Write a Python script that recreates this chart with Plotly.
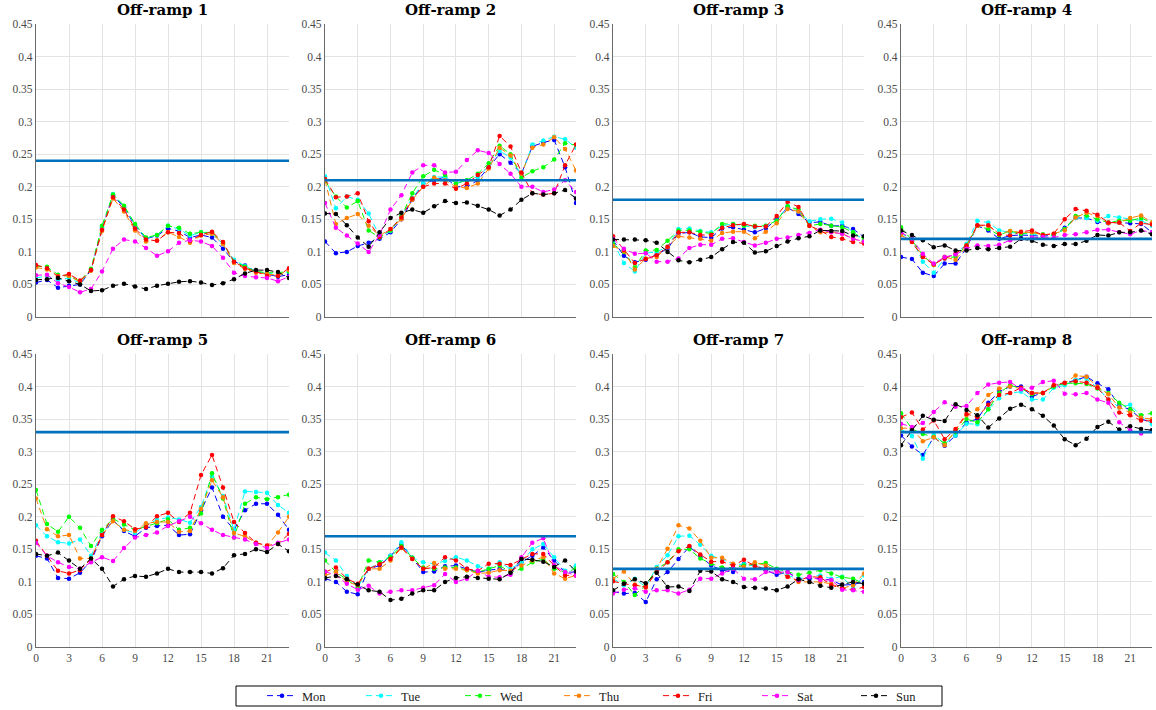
import plotly.graph_objects as go

# Hour of day (x axis)
hours = list(range(24))
days = ["Mon", "Tue", "Wed", "Thu", "Fri", "Sat", "Sun"]
day_colors = ["#0000FF", "#00FFFF", "#00FF00", "#FF8000", "#FF0000", "#FF00FF", "#000000"]

ramp_titles = ["Off-ramp 1", "Off-ramp 2", "Off-ramp 3", "Off-ramp 4",
               "Off-ramp 5", "Off-ramp 6", "Off-ramp 7", "Off-ramp 8"]

# Threshold level per off-ramp
thresholds = [0.24, 0.21, 0.18, 0.12, 0.33, 0.17, 0.12, 0.33]

# Hourly ratios per off-ramp, one list per weekday (Mon..Sun)
ramp1 = [
    [0.053, 0.057, 0.045, 0.048, 0.050, 0.072, 0.135, 0.187, 0.168, 0.140, 0.120, 0.125, 0.136, 0.132, 0.122, 0.126, 0.122, 0.105, 0.085, 0.079, 0.070, 0.066, 0.062, 0.065],
    [0.060, 0.063, 0.057, 0.060, 0.052, 0.073, 0.138, 0.189, 0.170, 0.142, 0.121, 0.126, 0.140, 0.135, 0.125, 0.130, 0.128, 0.112, 0.088, 0.078, 0.070, 0.068, 0.065, 0.070],
    [0.078, 0.077, 0.065, 0.063, 0.055, 0.074, 0.140, 0.188, 0.171, 0.143, 0.122, 0.126, 0.140, 0.137, 0.128, 0.130, 0.130, 0.113, 0.085, 0.077, 0.070, 0.068, 0.068, 0.070],
    [0.076, 0.073, 0.063, 0.063, 0.054, 0.071, 0.132, 0.182, 0.162, 0.133, 0.116, 0.118, 0.130, 0.123, 0.114, 0.125, 0.128, 0.112, 0.083, 0.074, 0.068, 0.066, 0.064, 0.072],
    [0.080, 0.075, 0.062, 0.066, 0.056, 0.072, 0.134, 0.184, 0.165, 0.136, 0.119, 0.117, 0.130, 0.129, 0.117, 0.126, 0.131, 0.115, 0.085, 0.075, 0.070, 0.063, 0.063, 0.075],
    [0.064, 0.065, 0.052, 0.046, 0.038, 0.043, 0.070, 0.105, 0.119, 0.116, 0.106, 0.094, 0.101, 0.114, 0.118, 0.116, 0.109, 0.091, 0.068, 0.063, 0.061, 0.060, 0.055, 0.062],
    [0.057, 0.058, 0.060, 0.055, 0.050, 0.040, 0.041, 0.048, 0.051, 0.047, 0.043, 0.048, 0.051, 0.054, 0.055, 0.053, 0.049, 0.052, 0.058, 0.067, 0.072, 0.072, 0.069, 0.060],
]
ramp2 = [
    [0.116, 0.098, 0.100, 0.109, 0.114, 0.120, 0.130, 0.150, 0.180, 0.205, 0.210, 0.215, 0.200, 0.200, 0.210, 0.230, 0.250, 0.237, 0.220, 0.262, 0.268, 0.272, 0.230, 0.175],
    [0.216, 0.167, 0.185, 0.180, 0.159, 0.124, 0.132, 0.155, 0.183, 0.205, 0.215, 0.215, 0.205, 0.210, 0.215, 0.232, 0.255, 0.245, 0.218, 0.265, 0.271, 0.277, 0.273, 0.260],
    [0.209, 0.185, 0.168, 0.178, 0.133, 0.122, 0.133, 0.155, 0.190, 0.216, 0.226, 0.218, 0.205, 0.210, 0.220, 0.236, 0.263, 0.250, 0.214, 0.224, 0.230, 0.242, 0.267, 0.264],
    [0.210, 0.143, 0.152, 0.158, 0.140, 0.125, 0.135, 0.150, 0.180, 0.200, 0.214, 0.210, 0.200, 0.198, 0.205, 0.228, 0.260, 0.248, 0.220, 0.260, 0.265, 0.276, 0.258, 0.225],
    [0.212, 0.184, 0.185, 0.190, 0.147, 0.123, 0.135, 0.153, 0.182, 0.200, 0.205, 0.205, 0.197, 0.205, 0.218, 0.230, 0.278, 0.262, 0.222, 0.190, 0.188, 0.190, 0.233, 0.265],
    [0.175, 0.137, 0.125, 0.113, 0.100, 0.126, 0.165, 0.187, 0.222, 0.233, 0.233, 0.222, 0.223, 0.241, 0.256, 0.252, 0.235, 0.220, 0.200, 0.200, 0.192, 0.196, 0.210, 0.192],
    [0.159, 0.158, 0.141, 0.122, 0.108, 0.130, 0.152, 0.160, 0.165, 0.160, 0.170, 0.178, 0.175, 0.176, 0.171, 0.165, 0.156, 0.165, 0.180, 0.190, 0.188, 0.190, 0.195, 0.182],
]
ramp3 = [
    [0.118, 0.094, 0.084, 0.088, 0.096, 0.105, 0.128, 0.130, 0.123, 0.122, 0.136, 0.138, 0.134, 0.130, 0.136, 0.150, 0.168, 0.158, 0.145, 0.146, 0.140, 0.140, 0.135, 0.123],
    [0.115, 0.083, 0.070, 0.098, 0.100, 0.108, 0.135, 0.136, 0.132, 0.130, 0.140, 0.143, 0.140, 0.138, 0.140, 0.148, 0.170, 0.162, 0.147, 0.150, 0.151, 0.145, 0.130, 0.118],
    [0.112, 0.100, 0.076, 0.102, 0.103, 0.117, 0.133, 0.133, 0.131, 0.128, 0.143, 0.143, 0.140, 0.140, 0.140, 0.148, 0.170, 0.165, 0.140, 0.143, 0.140, 0.138, 0.130, 0.120],
    [0.109, 0.101, 0.073, 0.090, 0.092, 0.107, 0.124, 0.122, 0.120, 0.117, 0.129, 0.131, 0.131, 0.121, 0.131, 0.144, 0.166, 0.162, 0.140, 0.130, 0.130, 0.128, 0.120, 0.115],
    [0.124, 0.103, 0.083, 0.089, 0.095, 0.108, 0.130, 0.130, 0.126, 0.126, 0.137, 0.141, 0.143, 0.139, 0.139, 0.155, 0.177, 0.169, 0.140, 0.133, 0.123, 0.120, 0.115, 0.113],
    [0.120, 0.105, 0.097, 0.098, 0.085, 0.085, 0.090, 0.106, 0.111, 0.111, 0.120, 0.121, 0.115, 0.110, 0.114, 0.120, 0.122, 0.126, 0.129, 0.134, 0.130, 0.128, 0.120, 0.116],
    [0.119, 0.119, 0.119, 0.118, 0.114, 0.100, 0.087, 0.084, 0.088, 0.092, 0.104, 0.115, 0.114, 0.099, 0.101, 0.109, 0.116, 0.121, 0.124, 0.133, 0.132, 0.132, 0.125, 0.124],
]
ramp4 = [
    [0.092, 0.089, 0.068, 0.063, 0.082, 0.082, 0.106, 0.140, 0.133, 0.120, 0.125, 0.126, 0.125, 0.124, 0.126, 0.137, 0.152, 0.152, 0.146, 0.144, 0.145, 0.144, 0.143, 0.130],
    [0.128, 0.120, 0.085, 0.068, 0.090, 0.096, 0.112, 0.148, 0.145, 0.133, 0.130, 0.128, 0.128, 0.124, 0.125, 0.135, 0.152, 0.152, 0.148, 0.155, 0.153, 0.150, 0.148, 0.140],
    [0.138, 0.118, 0.095, 0.080, 0.092, 0.092, 0.110, 0.140, 0.135, 0.126, 0.132, 0.128, 0.130, 0.127, 0.126, 0.135, 0.155, 0.156, 0.150, 0.145, 0.148, 0.148, 0.152, 0.145],
    [0.126, 0.116, 0.093, 0.080, 0.092, 0.088, 0.108, 0.140, 0.140, 0.128, 0.132, 0.130, 0.130, 0.126, 0.128, 0.133, 0.153, 0.160, 0.155, 0.144, 0.145, 0.152, 0.156, 0.145],
    [0.132, 0.115, 0.092, 0.081, 0.090, 0.097, 0.110, 0.141, 0.141, 0.127, 0.125, 0.131, 0.133, 0.126, 0.128, 0.150, 0.166, 0.163, 0.157, 0.145, 0.145, 0.132, 0.144, 0.142],
    [0.130, 0.120, 0.097, 0.082, 0.092, 0.096, 0.105, 0.110, 0.109, 0.111, 0.118, 0.120, 0.122, 0.123, 0.122, 0.126, 0.127, 0.130, 0.134, 0.134, 0.130, 0.127, 0.133, 0.130],
    [0.133, 0.126, 0.118, 0.107, 0.110, 0.102, 0.102, 0.106, 0.104, 0.106, 0.108, 0.120, 0.117, 0.111, 0.109, 0.112, 0.112, 0.117, 0.126, 0.125, 0.130, 0.130, 0.133, 0.127],
]
ramp5 = [
    [0.140, 0.136, 0.106, 0.105, 0.114, 0.132, 0.170, 0.195, 0.178, 0.170, 0.183, 0.186, 0.187, 0.172, 0.173, 0.210, 0.245, 0.200, 0.180, 0.210, 0.220, 0.220, 0.203, 0.180],
    [0.187, 0.170, 0.161, 0.159, 0.165, 0.140, 0.175, 0.195, 0.180, 0.175, 0.188, 0.195, 0.199, 0.196, 0.191, 0.215, 0.262, 0.232, 0.180, 0.239, 0.238, 0.237, 0.218, 0.206],
    [0.241, 0.189, 0.177, 0.200, 0.183, 0.155, 0.180, 0.197, 0.188, 0.180, 0.185, 0.190, 0.196, 0.180, 0.183, 0.205, 0.267, 0.228, 0.168, 0.220, 0.230, 0.227, 0.230, 0.234],
    [0.228, 0.181, 0.170, 0.172, 0.136, 0.136, 0.172, 0.193, 0.180, 0.178, 0.190, 0.192, 0.192, 0.177, 0.178, 0.212, 0.256, 0.230, 0.175, 0.170, 0.160, 0.155, 0.176, 0.200],
    [0.163, 0.140, 0.117, 0.113, 0.118, 0.135, 0.172, 0.201, 0.193, 0.181, 0.184, 0.201, 0.206, 0.192, 0.206, 0.264, 0.295, 0.245, 0.192, 0.175, 0.160, 0.156, 0.158, 0.174],
    [0.160, 0.140, 0.130, 0.123, 0.120, 0.130, 0.138, 0.132, 0.152, 0.168, 0.172, 0.176, 0.186, 0.193, 0.200, 0.190, 0.180, 0.172, 0.168, 0.165, 0.158, 0.152, 0.160, 0.165],
    [0.143, 0.140, 0.145, 0.133, 0.120, 0.136, 0.120, 0.093, 0.104, 0.109, 0.108, 0.113, 0.120, 0.115, 0.115, 0.115, 0.113, 0.121, 0.141, 0.143, 0.150, 0.146, 0.158, 0.147],
]
ramp6 = [
    [0.105, 0.100, 0.085, 0.081, 0.120, 0.125, 0.140, 0.157, 0.137, 0.115, 0.116, 0.124, 0.125, 0.120, 0.115, 0.118, 0.120, 0.115, 0.130, 0.140, 0.153, 0.133, 0.115, 0.115],
    [0.145, 0.133, 0.109, 0.092, 0.120, 0.130, 0.140, 0.161, 0.137, 0.130, 0.128, 0.132, 0.138, 0.133, 0.124, 0.120, 0.130, 0.120, 0.130, 0.150, 0.158, 0.138, 0.117, 0.125],
    [0.133, 0.115, 0.104, 0.091, 0.133, 0.130, 0.138, 0.155, 0.137, 0.122, 0.120, 0.122, 0.122, 0.118, 0.115, 0.120, 0.125, 0.115, 0.120, 0.130, 0.135, 0.120, 0.115, 0.120],
    [0.110, 0.115, 0.100, 0.095, 0.120, 0.120, 0.133, 0.152, 0.135, 0.120, 0.129, 0.120, 0.120, 0.118, 0.113, 0.114, 0.118, 0.117, 0.125, 0.133, 0.138, 0.113, 0.105, 0.110],
    [0.115, 0.122, 0.105, 0.097, 0.120, 0.127, 0.135, 0.153, 0.135, 0.120, 0.122, 0.138, 0.133, 0.120, 0.117, 0.128, 0.128, 0.126, 0.135, 0.143, 0.143, 0.125, 0.110, 0.110],
    [0.116, 0.110, 0.097, 0.088, 0.094, 0.082, 0.085, 0.087, 0.087, 0.091, 0.095, 0.112, 0.100, 0.105, 0.117, 0.108, 0.107, 0.111, 0.138, 0.160, 0.167, 0.125, 0.115, 0.110],
    [0.106, 0.109, 0.104, 0.096, 0.087, 0.085, 0.072, 0.074, 0.082, 0.087, 0.087, 0.100, 0.106, 0.108, 0.106, 0.105, 0.104, 0.114, 0.135, 0.134, 0.131, 0.123, 0.133, 0.116],
]
ramp7 = [
    [0.085, 0.082, 0.083, 0.069, 0.104, 0.115, 0.135, 0.154, 0.140, 0.125, 0.118, 0.115, 0.128, 0.125, 0.118, 0.111, 0.115, 0.105, 0.105, 0.105, 0.103, 0.095, 0.096, 0.100],
    [0.105, 0.095, 0.105, 0.092, 0.123, 0.141, 0.170, 0.171, 0.157, 0.140, 0.135, 0.127, 0.127, 0.125, 0.120, 0.118, 0.110, 0.105, 0.108, 0.110, 0.105, 0.108, 0.090, 0.110],
    [0.112, 0.100, 0.080, 0.095, 0.120, 0.130, 0.150, 0.150, 0.136, 0.128, 0.122, 0.122, 0.125, 0.127, 0.129, 0.120, 0.115, 0.111, 0.114, 0.118, 0.113, 0.107, 0.105, 0.097],
    [0.105, 0.116, 0.096, 0.091, 0.120, 0.151, 0.187, 0.182, 0.163, 0.137, 0.137, 0.128, 0.123, 0.130, 0.125, 0.118, 0.108, 0.100, 0.100, 0.100, 0.097, 0.090, 0.095, 0.113],
    [0.101, 0.097, 0.095, 0.092, 0.115, 0.130, 0.147, 0.155, 0.142, 0.131, 0.131, 0.125, 0.134, 0.124, 0.120, 0.118, 0.108, 0.102, 0.108, 0.107, 0.095, 0.090, 0.088, 0.092],
    [0.082, 0.088, 0.090, 0.085, 0.087, 0.087, 0.082, 0.088, 0.105, 0.105, 0.113, 0.120, 0.105, 0.104, 0.115, 0.115, 0.115, 0.103, 0.108, 0.103, 0.103, 0.088, 0.087, 0.085],
    [0.087, 0.097, 0.104, 0.098, 0.114, 0.092, 0.093, 0.086, 0.117, 0.116, 0.104, 0.100, 0.092, 0.091, 0.090, 0.087, 0.093, 0.104, 0.100, 0.094, 0.091, 0.096, 0.100, 0.097],
]
ramp8 = [
    [0.325, 0.308, 0.295, 0.322, 0.309, 0.325, 0.345, 0.350, 0.375, 0.392, 0.400, 0.400, 0.385, 0.390, 0.400, 0.405, 0.410, 0.415, 0.405, 0.396, 0.370, 0.365, 0.350, 0.345],
    [0.335, 0.324, 0.289, 0.326, 0.312, 0.325, 0.343, 0.342, 0.365, 0.382, 0.390, 0.392, 0.380, 0.380, 0.398, 0.402, 0.410, 0.412, 0.398, 0.380, 0.368, 0.372, 0.355, 0.342],
    [0.359, 0.335, 0.327, 0.323, 0.313, 0.330, 0.350, 0.345, 0.365, 0.390, 0.402, 0.397, 0.388, 0.390, 0.400, 0.405, 0.405, 0.404, 0.397, 0.390, 0.375, 0.365, 0.356, 0.359],
    [0.336, 0.336, 0.316, 0.322, 0.310, 0.333, 0.356, 0.365, 0.387, 0.397, 0.400, 0.397, 0.390, 0.390, 0.402, 0.405, 0.417, 0.415, 0.400, 0.388, 0.368, 0.360, 0.352, 0.350],
    [0.353, 0.360, 0.334, 0.348, 0.319, 0.335, 0.358, 0.353, 0.372, 0.387, 0.390, 0.398, 0.390, 0.390, 0.402, 0.406, 0.408, 0.406, 0.398, 0.380, 0.360, 0.356, 0.348, 0.347],
    [0.343, 0.338, 0.344, 0.361, 0.376, 0.369, 0.370, 0.390, 0.403, 0.406, 0.407, 0.396, 0.398, 0.407, 0.409, 0.389, 0.388, 0.390, 0.380, 0.375, 0.345, 0.333, 0.328, 0.333],
    [0.310, 0.333, 0.355, 0.349, 0.347, 0.373, 0.364, 0.356, 0.337, 0.351, 0.366, 0.372, 0.365, 0.355, 0.340, 0.319, 0.310, 0.320, 0.338, 0.346, 0.334, 0.339, 0.335, 0.333],
]
ramps = [ramp1, ramp2, ramp3, ramp4, ramp5, ramp6, ramp7, ramp8]

x_ticks = [0, 3, 6, 9, 12, 15, 18, 21]
y_ticks = [0, 0.05, 0.1, 0.15, 0.2, 0.25, 0.3, 0.35, 0.4, 0.45]
y_tick_text = ["0", "0.05", "0.1", "0.15", "0.2", "0.25", "0.3", "0.35", "0.4", "0.45"]

W, H = 1156, 710
col_px = [(36, 289), (325, 576), (613, 864), (901, 1152)]
row_px = [(24, 317), (354, 647)]
legend_box_px = (236, 686, 942, 706)  # left, top, right, bottom

FONT = "Liberation Serif"
TITLE_FONT = "DejaVu Serif"
fig = go.Figure()
layout = {}

for i, data in enumerate(ramps):
    r, c = divmod(i, 4)
    n = i + 1
    xa = "x" if n == 1 else f"x{n}"
    ya = "y" if n == 1 else f"y{n}"
    for d, (name, color) in enumerate(zip(days, day_colors)):
        fig.add_trace(go.Scatter(
            x=hours, y=data[d], xaxis=xa, yaxis=ya, name=name,
            mode="lines+markers", legendgroup=name, showlegend=(i == 0),
            line=dict(color=color, width=1, dash="6px,4px"),
            marker=dict(color=color, size=4.5),
        ))
    fig.add_trace(go.Scatter(
        x=[hours[0], hours[-1]], y=[thresholds[i]] * 2, xaxis=xa, yaxis=ya,
        mode="lines", showlegend=False, hoverinfo="skip",
        line=dict(color="#0072BD", width=2.6),
    ))

    x0, x1 = col_px[c]
    y0, y1 = row_px[r]
    key = "" if n == 1 else str(n)
    layout["xaxis" + key] = dict(
        domain=[x0 / W, x1 / W], range=[0, 23], anchor=ya,
        tickvals=x_ticks, showticklabels=(r == 1),
        showgrid=True, gridcolor="#e3e3e3", gridwidth=1,
        showline=True, linecolor="#6a6a6a", linewidth=1.2,
        zeroline=False, ticks="", tickfont=dict(family=FONT, size=11.5, color="#4a4a4a"),
    )
    layout["yaxis" + key] = dict(
        domain=[1 - y1 / H, 1 - y0 / H], range=[0, 0.45], anchor=xa,
        tickvals=y_ticks, ticktext=y_tick_text,
        showgrid=True, gridcolor="#e3e3e3", gridwidth=1,
        showline=True, linecolor="#6a6a6a", linewidth=1.2,
        zeroline=False, ticks="", tickfont=dict(family=FONT, size=11.5, color="#4a4a4a"),
    )

annotations = []
for i, title in enumerate(ramp_titles):
    r, c = divmod(i, 4)
    x0, x1 = col_px[c]
    y0, _ = row_px[r]
    annotations.append(dict(
        text=f"<b>{title}</b>", xref="paper", yref="paper",
        x=(x0 + x1) / 2 / W, y=1 - (y0 - 14) / H, xanchor="center", yanchor="middle",
        showarrow=False, font=dict(family=TITLE_FONT, size=15, color="#000000"),
    ))

# Frame around the legend
lx0, ly0, lx1, ly1 = legend_box_px
shapes = [dict(
    type="rect", xref="paper", yref="paper",
    x0=lx0 / W, x1=lx1 / W, y0=1 - ly1 / H, y1=1 - ly0 / H,
    line=dict(color="#000000", width=1), fillcolor="rgba(0,0,0,0)", layer="above",
)]

fig.update_layout(
    **layout,
    annotations=annotations,
    shapes=shapes,
    width=W, height=H,
    margin=dict(l=0, r=0, t=0, b=0, autoexpand=False),
    paper_bgcolor="white", plot_bgcolor="white",
    legend=dict(
        orientation="h", x=262 / W, xanchor="left", y=1 - 696 / H, yanchor="middle",
        borderwidth=0, bgcolor="rgba(0,0,0,0)",
        font=dict(family=FONT, size=12.5, color="#202020"),
        entrywidth=54, entrywidthmode="pixels", itemwidth=30,
    ),
    showlegend=True,
)

fig.write_html("out.html")
